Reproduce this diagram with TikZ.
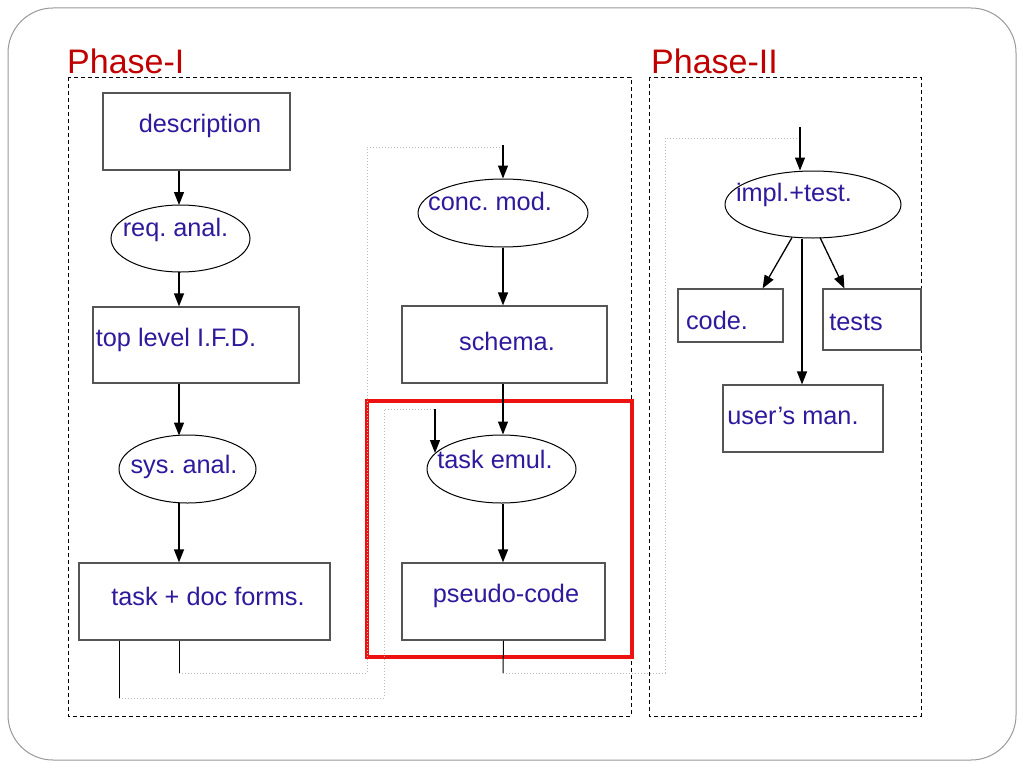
\documentclass[tikz,border=0pt]{standalone}
\usepackage{fontspec}
\setmainfont{Liberation Sans}
\usetikzlibrary{shapes.geometric,arrows.meta,calc}
\definecolor{txtblue}{HTML}{2E1A9C}
\definecolor{phred}{HTML}{C00000}
\definecolor{boxred}{HTML}{EE1111}
\definecolor{boxgray}{HTML}{555555}
\definecolor{dotgray}{HTML}{BBBBBB}
\frenchspacing
\begin{document}
\begin{tikzpicture}[x=1pt,y=-1pt,
  txt/.style={text=txtblue,font=\fontsize{25.3}{29}\selectfont,inner sep=0pt},
  phase/.style={text=phred,font=\fontsize{34}{39}\selectfont,inner sep=0pt,anchor=base west},
  boxn/.style={draw=boxgray,line width=1.2pt,rectangle,inner sep=0pt},
  elln/.style={draw=black,line width=1pt,ellipse,inner sep=0pt},
  arr/.style={draw=black,line width=1.3pt,arrows={-Triangle[length=13pt,width=10pt]}},
  plain/.style={draw=black,line width=1pt},
  dotl/.style={draw=dotgray,line width=1pt,dotted},
  phbox/.style={draw=black,line width=1pt,dash pattern=on 4pt off 3pt}
]
\useasboundingbox (0,0) rectangle (1024,768);
\fill[white] (0,0) rectangle (1024,768);
\draw[gray!80,line width=1pt,rounded corners=45pt] (8,8) rectangle (1016,760);

% phase frames
\node[phase] (t1) at (67,74) {Phase-I};
\node[phase] (t2) at (651,74) {Phase-II};
\draw[phbox] (68,77) rectangle (631,716);
\draw[phbox] (649,77) rectangle (921,716);

% Phase-I left column
\node[boxn,minimum width=187pt,minimum height=77pt,label={[txt,xshift=3.5pt,yshift=5.5pt]center:description}] (desc) at (196.5,131.5) {};
\node[elln,minimum width=139pt,minimum height=67pt,label={[txt,xshift=-5pt,yshift=8.5pt]center:req. anal.}] (req) at (180.5,238.5) {};
\node[boxn,minimum width=206pt,minimum height=76pt,label={[txt,xshift=-20pt,yshift=5pt]center:top level I.F.D.}] (tl) at (196,345) {};
\node[elln,minimum width=137pt,minimum height=68pt,label={[txt,xshift=-3.5pt,yshift=2pt]center:sys. anal.}] (sys) at (187.5,469) {};
\node[boxn,minimum width=251pt,minimum height=77pt,label={[txt,xshift=3.5pt,yshift=5.5pt]center:task + doc forms.}] (tdf) at (204.5,601.5) {};

% Phase-I right column
\node[elln,minimum width=170pt,minimum height=68pt,label={[txt,xshift=-13pt,yshift=12pt]center:conc. mod.}] (conc) at (503,213) {};
\node[boxn,minimum width=205pt,minimum height=77pt,label={[txt,xshift=2.5pt,yshift=3.5pt]center:schema.}] (schema) at (504.5,344.5) {};
\node[elln,minimum width=149pt,minimum height=68pt,label={[txt,xshift=-6.5pt,yshift=10pt]center:task emul.}] (temul) at (501.5,469) {};
\node[boxn,minimum width=203pt,minimum height=77pt,label={[txt,xshift=2.5pt,yshift=5.5pt]center:pseudo-code}] (pseudo) at (503.5,601.5) {};
\draw[boxred,line width=4pt] (367,401) rectangle (632,657);

% Phase-II
\node[elln,minimum width=176pt,minimum height=67pt,label={[txt,xshift=-19pt,yshift=10pt]center:impl.+test.}] (impl) at (813,204.5) {};
\node[boxn,minimum width=105pt,minimum height=53pt,label={[txt,xshift=-13.5pt,yshift=-4.5pt]center:code.}] (code) at (730.5,315.5) {};
\node[boxn,minimum width=98pt,minimum height=61pt,label={[txt,xshift=-16pt,yshift=-2.5pt]center:tests}] (tests) at (872,319.5) {};
\node[boxn,minimum width=160pt,minimum height=67pt,label={[txt,xshift=-10pt,yshift=2.5pt]center:user’s man.}] (user) at (803,418.5) {};

% vertical flow arrows
\coordinate (lx) at (179,0);
\coordinate (rx) at (503,0);
\draw[arr] (desc.south -| lx) -- ($(req.north -| lx)+(0,0.5)$);
\draw[arr] ($(req.south -| lx)+(0,-0.5)$) -- (tl.north -| lx);
\draw[arr] (tl.south -| lx) -- ($(sys.north -| lx)+(0,1)$);
\draw[arr] ($(sys.south -| lx)+(0,-1)$) -- (tdf.north -| lx);
\draw[arr] (conc.south) -- (conc.south |- schema.north);
\draw[arr] (schema.south -| rx) -- (temul.north -| rx);
\draw[arr] (temul.south -| rx) -- (pseudo.north -| rx);

% Phase-II arrows
\coordinate (i1) at ($(impl.south)+(-21,-1)$);
\coordinate (i2) at ($(impl.south)+(-11,0)$);
\coordinate (i3) at ($(impl.south)+(7,-1)$);
\draw[arr] (i1) -- ($(code.north east)+(-21,0)$);
\draw[arr] (i3) -- ($(tests.north west)+(22,0)$);
\draw[arr] (i2) -- (i2 |- user.north);

% feedback connectors
\coordinate (a1) at (179,673);
\coordinate (a2) at (367,673);
\coordinate (a3) at (367,147);
\coordinate (a4) at (503,145);
\draw[plain] (tdf.south -| a1) -- (a1);
\draw[dotl] (a1) -- (a2) -- (a3) -- (a3 -| a4);
\draw[arr] (a4) -- (conc.north);

\coordinate (b1) at (119,698);
\coordinate (b2) at (384,698);
\coordinate (b3) at (384,409);
\coordinate (b4) at (435,409);
\coordinate (b5) at (435,453);
\draw[plain] (tdf.south -| b1) -- (b1);
\draw[dotl] (b1) -- (b2) -- (b3) -- (b4);
\draw[arr] (b4) -- (b5);

\coordinate (c1) at (503,673);
\coordinate (c2) at (665,673);
\coordinate (c3) at (665,138);
\coordinate (c4) at (800,127);
\draw[plain] (pseudo.south) -- (c1);
\draw[dotl] (c1) -- (c2) -- (c3) -- (c3 -| c4);
\draw[arr] (c4) -- (c4 |- impl.north);
\end{tikzpicture}
\end{document}
